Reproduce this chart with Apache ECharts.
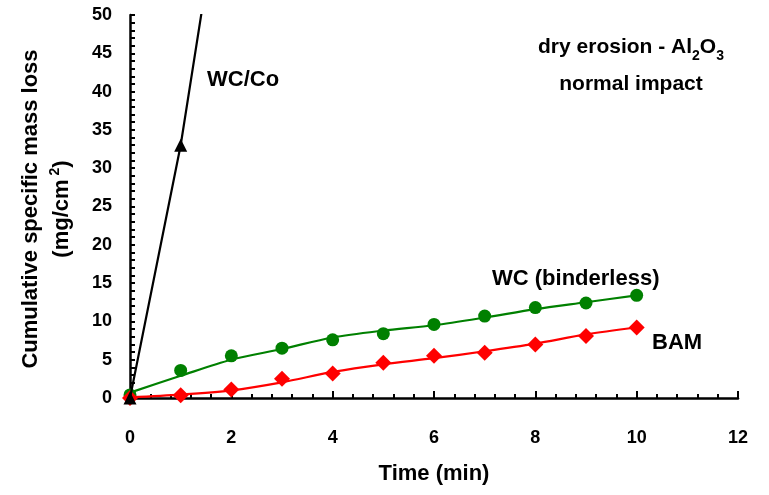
<!DOCTYPE html>
<html>
<head>
<meta charset="utf-8">
<script src="https://cdn.jsdelivr.net/npm/echarts@6/dist/echarts.min.js"></script>
<style>
  html, body { margin: 0; padding: 0; background: #fff; }
  #chart { width: 769px; height: 495px; }
</style>
</head>
<body>
<div id="chart"></div>
<script>
// Erosion time in minutes
const times = [0, 1, 2, 3, 4, 5, 6, 7, 8, 9, 10];

// Cumulative specific mass loss (mg/cm2), measured points
const wcBinderless = [0.4, 3.6, 5.5, 6.5, 7.6, 8.4, 9.6, 10.7, 11.8, 12.4, 13.4];
const bam = [0.0, 0.35, 1.1, 2.5, 3.2, 4.6, 5.5, 5.9, 7.0, 8.1, 9.2];

// Trend curves through the measured points
const wcBinderlessFit = [0.7, 2.9, 5.0, 6.4, 7.9, 8.8, 9.5, 10.5, 11.6, 12.5, 13.4];
const bamFit = [0.1, 0.45, 1.0, 2.05, 3.4, 4.4, 5.2, 6.1, 7.1, 8.3, 9.2];

// WC/Co wears far faster and leaves the plotted range early
const wcCoTimes = [0, 1, 2];
const wcCo = [0, 33, 75];

// Axis ticks
const xTicks = [0, 2, 4, 6, 8, 10, 12];
const yTicks = [0, 5, 10, 15, 20, 25, 30, 35, 40, 45, 50];

const FONT = '"Liberation Sans", Arial, Helvetica, sans-serif';
const GREEN = '#008000';
const RED = '#ff0000';
const BLACK = '#000000';

const pairs = (xs, ys) => xs.map((x, i) => [x, ys[i]]);

const chart = echarts.init(document.getElementById('chart'), null, { renderer: 'canvas' });

const axisText = { color: BLACK, fontFamily: FONT, fontWeight: 'bold', fontSize: 18 };
const labelText = { fontFamily: FONT, fontWeight: 'bold', fontSize: 22, fill: BLACK, verticalAlign: 'middle' };

chart.setOption({
  animation: false,
  backgroundColor: '#ffffff',
  grid: { left: 130, right: 31, top: 15, bottom: 97, containLabel: false },
  xAxis: {
    type: 'value',
    min: xTicks[0],
    max: xTicks[xTicks.length - 1],
    interval: xTicks[1] - xTicks[0],
    name: 'Time (min)',
    nameLocation: 'middle',
    nameGap: 65,
    nameTextStyle: { color: BLACK, fontFamily: FONT, fontWeight: 'bold', fontSize: 22 },
    axisLine: { lineStyle: { color: BLACK, width: 2.5 } },
    axisTick: { inside: true, length: 7, lineStyle: { color: BLACK, width: 2 } },
    minorTick: { show: true, splitNumber: 5, length: 4, lineStyle: { color: BLACK, width: 2 } },
    axisLabel: Object.assign({ margin: 31 }, axisText),
    splitLine: { show: false }
  },
  yAxis: {
    type: 'value',
    min: yTicks[0],
    max: yTicks[yTicks.length - 1],
    interval: yTicks[1] - yTicks[0],
    axisLine: { lineStyle: { color: BLACK, width: 2.5 } },
    axisTick: { inside: true, length: 5, lineStyle: { color: BLACK, width: 2 } },
    minorTick: { show: true, splitNumber: 5, length: 5, lineStyle: { color: BLACK, width: 2 } },
    axisLabel: Object.assign({ margin: 18 }, axisText),
    splitLine: { show: false }
  },
  graphic: [
    {
      type: 'text',
      x: 46, y: 209,
      rotation: Math.PI / 2,
      style: {
        text: '{t|Cumulative specific mass loss}\n{t|(mg/cm}{sup|2}{t|)}',
        align: 'center',
        verticalAlign: 'middle',
        rich: {
          t: { fontFamily: FONT, fontWeight: 'bold', fontSize: 22, lineHeight: 31, fill: BLACK, align: 'center' },
          sup: { fontFamily: FONT, fontWeight: 'bold', fontSize: 14, fill: BLACK, verticalAlign: 'top', padding: [2, 0, 0, 4] }
        }
      }
    },
    { type: 'text', x: 207, y: 80, style: Object.assign({ text: 'WC/Co', align: 'left' }, labelText) },
    { type: 'text', x: 492, y: 279, style: Object.assign({ text: 'WC (binderless)', align: 'left' }, labelText) },
    { type: 'text', x: 652, y: 343, style: Object.assign({ text: 'BAM', align: 'left' }, labelText) },
    {
      type: 'text', x: 631, y: 66,
      style: {
        text: '{t|dry erosion - Al}{sub|2}{t|O}{sub|3}\n{t|normal impact}',
        align: 'center',
        verticalAlign: 'middle',
        rich: {
          t: { fontFamily: FONT, fontWeight: 'bold', fontSize: 21, lineHeight: 37, fill: BLACK, align: 'center' },
          sub: { fontFamily: FONT, fontWeight: 'bold', fontSize: 14, fill: BLACK, verticalAlign: 'top', padding: [20, 0, 0, 0] }
        }
      }
    }
  ],
  series: [
    {
      name: 'WC (binderless) trend',
      type: 'line',
      data: pairs(times, wcBinderlessFit),
      smooth: 0.3,
      showSymbol: false,
      lineStyle: { color: GREEN, width: 2.2 },
      z: 2
    },
    {
      name: 'BAM trend',
      type: 'line',
      data: pairs(times, bamFit),
      smooth: 0.3,
      showSymbol: false,
      lineStyle: { color: RED, width: 2.2 },
      z: 2
    },
    {
      name: 'WC (binderless)',
      type: 'scatter',
      data: pairs(times, wcBinderless),
      symbol: 'circle',
      symbolSize: 13,
      itemStyle: { color: GREEN, opacity: 1 },
      z: 3
    },
    {
      name: 'BAM',
      type: 'scatter',
      data: pairs(times, bam),
      symbol: 'diamond',
      symbolSize: 16,
      itemStyle: { color: RED, opacity: 1 },
      z: 3
    },
    {
      name: 'WC/Co',
      type: 'line',
      data: pairs(wcCoTimes, wcCo),
      symbol: 'triangle',
      symbolSize: 13,
      showAllSymbol: true,
      lineStyle: { color: BLACK, width: 2.2 },
      itemStyle: { color: BLACK },
      clip: true,
      z: 4
    }
  ]
});
</script>
</body>
</html>
